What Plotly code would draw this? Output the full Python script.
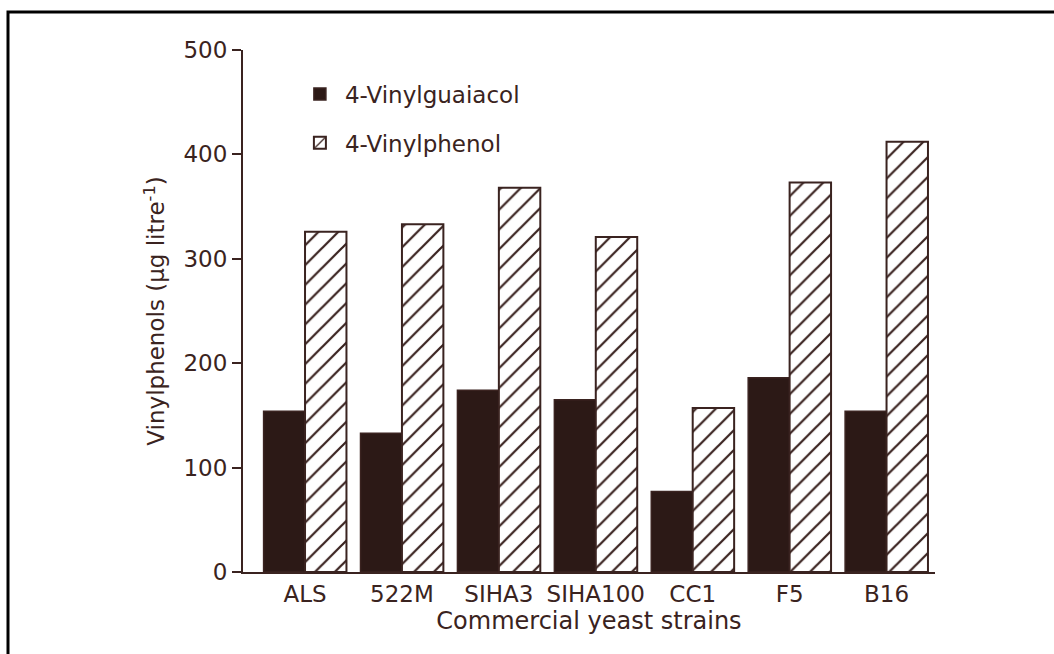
import plotly.graph_objects as go

strains = ["ALS", "522M", "SIHA3", "SIHA100", "CC1", "F5", "B16"]
vinylguaiacol = [154, 133, 174, 165, 77, 186, 154]
vinylphenol = [326, 333, 368, 321, 157, 373, 412]
y_ticks = [0, 100, 200, 300, 400, 500]

ink = "#3a2320"
dark = "#2c1916"
font_family = "DejaVu Sans, sans-serif"

fig = go.Figure()
fig.add_trace(go.Bar(
    x=strains, y=vinylguaiacol, name="4-Vinylguaiacol", legendgroup="g1",
    marker=dict(color=dark, line=dict(color=ink, width=1.5)),
))
fig.add_trace(go.Bar(
    x=strains, y=vinylphenol, name="4-Vinylphenol", legendgroup="g2",
    marker=dict(color="white", line=dict(color=ink, width=2),
                pattern=dict(shape="/", fgcolor=ink, bgcolor="white",
                             size=14, solidity=0.16, fillmode="replace")),
))

fig.update_layout(
    width=1054, height=654,
    margin=dict(l=243, r=119, t=50, b=82),
    paper_bgcolor="white", plot_bgcolor="white",
    barmode="group", bargap=0.145, bargroupgap=0,
    font=dict(family=font_family, color=ink, size=23),
    showlegend=True,
    legend=dict(x=0.075, y=0.957, xanchor="left", yanchor="top",
                bgcolor="rgba(0,0,0,0)", font=dict(size=23, color=ink),
                tracegroupgap=16, itemwidth=40),
    xaxis=dict(
        range=[-0.64, 6.5], showgrid=False, zeroline=False,
        showline=True, linecolor=ink, linewidth=2, ticks="",
        tickfont=dict(size=23, color=ink),
        title=dict(text="Commercial yeast strains", font=dict(size=24, color=ink), standoff=4),
    ),
    yaxis=dict(
        range=[0, 500], tickvals=y_ticks, showgrid=False, zeroline=False,
        showline=True, linecolor=ink, linewidth=2,
        ticks="outside", ticklen=9, tickwidth=2, tickcolor=ink,
        tickfont=dict(size=23, color=ink),
        title=dict(text="Vinylphenols (μg litre<sup>-1</sup>)", font=dict(size=23, color=ink), standoff=12),
    ),
    shapes=[dict(type="rect", xref="paper", yref="paper",
                 x0=(8 - 243) / 692, x1=(1070 - 243) / 692,
                 y0=(572 - 670) / 522, y1=(572 - 12) / 522,
                 line=dict(color="black", width=3), fillcolor="rgba(0,0,0,0)", layer="below")],
)

fig.write_html("out.html")
